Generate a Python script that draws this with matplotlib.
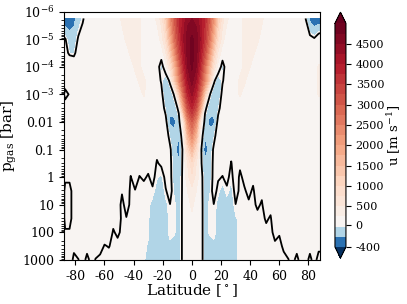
import numpy as np
import matplotlib
matplotlib.use('Agg')
import matplotlib.pyplot as plt
from matplotlib.colors import TwoSlopeNorm

plt.rcParams['font.family'] = 'DejaVu Serif'
plt.rcParams['mathtext.fontset'] = 'dejavuserif'
plt.rcParams['axes.unicode_minus'] = False

# grid: latitude every 3 deg, pressure levels as log10(p / bar)
lat = np.arange(-90, 91, 3)
logp = np.array([-5.75, -5.0, -4.5, -4.0, -3.5, -3.0, -2.5, -2.0, -1.5,
                 -1.0, -0.5, 0.0, 0.5, 1.0, 1.5, 2.0, 2.5, 3.0])

# zonal-mean zonal wind u [m/s] on each level, lat -90 ... 90
u_2e6 = [-300, -350, -320, -250, -120, -30, 100, 100, 100, 100,
         100, 100, 100, 150, 300, 350, 350, 350, 300, 150,
         100, 150, 300, 600, 1200, 2200, 3000, 3700, 4100, 4400,
         4500,
         4400, 4100, 3700, 3000, 2200, 1200, 600, 300, 150, 100,
         150, 300, 350, 350, 350, 300, 150, 100, 100, 100,
         100, 100, 100, 100, 100, 0, -250, -350, -330, -300]
u_1e5 = [60, 15, -120, -130, 20, 100, 100, 100, 100, 100,
         100, 100, 100, 100, 150, 300, 350, 350, 300, 150,
         100, 100, 100, 350, 800, 1700, 2700, 3500, 4200, 4650,
         4800,
         4650, 4200, 3500, 2700, 1700, 800, 350, 100, 100, 100,
         150, 300, 350, 350, 300, 150, 100, 100, 100, 100,
         100, 100, 100, 100, 100, 100, 60, 20, 120, 150]
u_3e5 = [100, 80, -40, -50, 100, 100, 100, 100, 100, 100,
         100, 100, 100, 100, 100, 150, 300, 350, 300, 150,
         100, 100, 100, 100, 450, 1200, 2200, 3200, 4000, 4600,
         4850,
         4600, 4000, 3200, 2200, 1200, 450, 100, 100, 100, 100,
         150, 300, 350, 300, 150, 100, 100, 100, 100, 100,
         100, 100, 100, 100, 100, 100, 100, 100, 100, 100]
u_1e4 = [100, 100, 200, 150, 100, 100, 100, 100, 100, 100,
         100, 100, 100, 100, 100, 100, 150, 300, 300, 150,
         100, 100, 100, -100, 150, 700, 1600, 2700, 3700, 4500,
         4800,
         4500, 3700, 2700, 1600, 700, 150, -80, 100, 100, 100,
         150, 300, 300, 150, 100, 100, 100, 100, 100, 100,
         100, 100, 100, 100, 100, 100, 100, 100, 280, 280]
u_3e4 = [100, 60, 100, 100, 100, 100, 100, 100, 100, 100,
         100, 100, 100, 100, 100, 100, 100, 150, 300, 300,
         150, 100, 100, -20, -150, 50, 1200, 2300, 3300, 4200,
         4600,
         4200, 3300, 2300, 1200, 50, -150, -20, 100, 100, 150,
         300, 300, 150, 100, 100, 100, 100, 100, 100, 100,
         100, 100, 100, 100, 100, 100, 100, 100, 280, 280]
u_1e3 = [100, -35, 10, 100, 100, 100, 100, 100, 100, 100,
         100, 100, 100, 100, 100, 100, 100, 100, 150, 280,
         150, 100, 100, 60, -180, -150, 30, 1200, 2700, 3800,
         4300,
         3800, 2700, 1200, 30, -150, -180, 60, 100, 100, 150,
         280, 150, 100, 100, 100, 100, 100, 100, 100, 100,
         100, 100, 100, 100, 100, 100, 100, 100, 280, 280]
u_3e3 = [100, 60, 100, 100, 100, 100, 100, 100, 100, 100,
         100, 100, 100, 100, 100, 100, 100, 100, 100, 100,
         100, 100, 100, 100, -60, -150, -120, 50, 1800, 3200,
         3800,
         3200, 1800, 50, -120, -150, -60, 100, 100, 100, 100,
         100, 100, 100, 100, 100, 100, 100, 100, 100, 100,
         100, 100, 100, 100, 100, 100, 100, 100, 100, 100]
u_1e2 = [100, 100, 100, 100, 100, 100, 100, 100, 100, 100,
         100, 100, 100, 100, 100, 100, 100, 100, 100, 100,
         100, 100, 100, 100, 60, -240, -240, -80, 400, 2300,
         3000,
         2300, 400, -80, -240, -240, 60, 100, 100, 100, 100,
         100, 100, 100, 100, 100, 100, 100, 100, 100, 100,
         100, 100, 100, 100, 100, 100, 100, 100, 100, 100]
u_3e2 = [100, 100, 100, 100, 100, 100, 100, 100, 100, 100,
         100, 100, 100, 100, 100, 100, 100, 100, 100, 100,
         100, 100, 100, 100, 100, -60, -150, -180, 150, 1600,
         2400,
         1600, 150, -180, -150, -60, 100, 100, 100, 100, 100,
         100, 100, 100, 100, 100, 100, 100, 100, 100, 100,
         100, 100, 100, 100, 100, 100, 100, 100, 100, 100]
u_1e1 = [100, 60, 60, 60, 60, 60, 60, 60, 60, 60,
         60, 60, 60, 60, 60, 60, 60, 60, 60, 60,
         60, 60, 30, 60, 100, 30, -150, -300, 60, 900,
         1600,
         900, 60, -300, -150, 30, 100, 60, 60, 30, 60,
         60, 60, 60, 60, 60, 60, 60, 60, 60, 60,
         60, 60, 60, 60, 60, 60, 60, 60, 60, 60]
u_3e1 = [100, 60, 60, 60, 60, 60, 60, 60, 60, 60,
         60, 60, 60, 60, 60, 60, 30, 60, 30, 60,
         25, 60, -10, 20, 60, 40, -120, -150, 40, 500,
         900,
         500, 40, -150, -120, 40, 60, 30, 60, -5, 60,
         20, 60, 60, 60, 60, 60, 60, 60, 60, 60,
         60, 60, 60, 60, 60, 60, 60, 60, 60, 60]
u_1e0 = [100, 20, 20, 60, 60, 60, 60, 60, 60, 60,
         60, 60, 60, 60, 60, 60, -3, 40, -3, 10,
         -8, 25, -30, -60, 30, 40, -100, -120, 40, 400,
         700,
         400, 80, -120, -100, 40, 10, -3, 25, -30, 60,
         -20, 25, 60, 25, 60, 60, 60, 60, 60, 60,
         60, 60, 60, 60, 60, 60, 60, 60, 60, 60]
u_3e0 = [120, -30, -30, 40, 60, 60, 60, 60, 60, 60,
         60, 60, 60, 60, 10, 60, -20, -4, -20, -25,
         -20, -12, -80, -120, -8, 40, -60, -110, 40, 250,
         400,
         250, 80, -110, -60, 40, -25, -80, -15, -70, 40,
         -20, -12, 25, -15, 60, 20, 60, 60, 60, 60,
         60, 60, 60, 60, 60, 60, 60, 60, 60, 60]
u_10 = [120, -30, -30, 40, 60, 60, 60, 60, 60, 60,
        60, 60, 60, 60, -30, 40, -20, -20, -20, -20,
        -20, -70, -110, -120, -70, -2, -25, -100, 40, 150,
        300,
        150, 80, -100, -25, -2, -70, -110, -80, -100, -2,
        -20, -20, -15, -20, 15, -10, 60, 25, 60, 60,
        60, 60, 60, 60, 60, 60, 60, 60, 60, 60]
u_30 = [120, -30, -30, 40, 60, 60, 60, 60, 60, 60,
        60, 60, 30, 60, -20, -5, -20, -20, -20, -20,
        -30, -90, -110, -120, -70, -20, -25, -100, 40, 120,
        200,
        120, 80, -100, -25, -20, -70, -110, -110, -110, -50,
        -20, -20, -20, -20, -25, -20, 10, -8, 60, 60,
        60, 60, 60, 60, 60, 60, 60, 60, 60, 60]
u_100 = [100, 10, 10, 60, 60, 60, 60, 60, 60, 60,
         40, 60, -10, 20, -20, -20, -20, -20, -20, -20,
         -30, -100, -110, -120, -70, -20, -30, -100, 40, 100,
         150,
         100, 80, -100, -30, -20, -70, -110, -110, -110, -50,
         -20, -20, -20, -20, -20, -20, -20, -20, 25, 10,
         60, 60, 60, 60, 60, 60, 60, 60, 60, 60]
u_300 = [100, 60, 60, 25, 60, 60, 25, 60, 40, 30,
         -5, 4, -20, -30, -20, -20, -20, -20, -20, -20,
         -50, -110, -110, -120, -100, -60, -80, -100, 40, 100,
         120,
         100, 80, -100, -80, -60, -100, -110, -110, -110, -50,
         -20, -20, -20, -20, -20, -20, -20, -20, -15, -30,
         20, 40, 60, 25, 60, 60, 25, 60, 20, 20]
u_1000 = [100, 60, 60, -25, -5, 30, -20, 20, -5, -20,
          -20, -30, -20, -20, -20, -20, -20, -20, -20, -20,
          -110, -110, -110, -120, -110, -100, -100, -100, 40, 100,
          100,
          100, 80, -100, -100, -100, -110, -110, -110, -110, -50,
          -20, -20, -20, -20, -20, -20, -20, -20, -20, -20,
          -30, -5, 20, -20, 30, 30, -20, 30, -30, -30]

u = np.array([u_2e6, u_1e5, u_3e5, u_1e4, u_3e4, u_1e3, u_3e3, u_1e2, u_3e2,
              u_1e1, u_3e1, u_1e0, u_3e0, u_10, u_30, u_100, u_300, u_1000])

levels = [-400, -200, -40] + list(range(250, 5001, 250))
cbar_ticks = [-400] + list(range(0, 4501, 500))
ytick_pos = list(range(-6, 4))
ytick_labels = ['$10^{-6}$', '$10^{-5}$', '$10^{-4}$', '$10^{-3}$',
                '0.01', '0.1', '1', '10', '100', '1000']

fig = plt.figure(figsize=(4.07, 3.04), dpi=100)
ax = fig.add_axes([0.157, 0.145, 0.629, 0.817])
cax = fig.add_axes([0.823, 0.151, 0.027, 0.809])

norm = TwoSlopeNorm(vmin=-400, vcenter=0, vmax=5000)
cs = ax.contourf(lat, logp, u, levels=levels, cmap='RdBu_r', norm=norm,
                 extend='both')
ax.contour(lat, logp, u, levels=[0], colors='k', linewidths=1.3)

ax.set_xlim(-87.86, 87.86)
ax.set_ylim(3, -6)
ax.set_xticks(range(-80, 81, 20))
ax.set_yticks(ytick_pos)
ax.set_yticklabels(ytick_labels)
minor = [np.log10(k) + n for n in range(-6, 3) for k in range(2, 10)]
ax.set_yticks(minor, minor=True)
ax.tick_params(labelsize=9)
ax.set_xlabel('Latitude [$^\\circ$]', fontsize=11, labelpad=0)
ax.set_ylabel('p$_{\\rm gas}$ [bar]', fontsize=11, labelpad=2)

cb = fig.colorbar(cs, cax=cax, ticks=cbar_ticks)
cb.ax.tick_params(labelsize=8)
cb.set_label('u [m s$^{-1}$]', fontsize=9.5, labelpad=1)

fig.savefig('out.png', dpi=100)
